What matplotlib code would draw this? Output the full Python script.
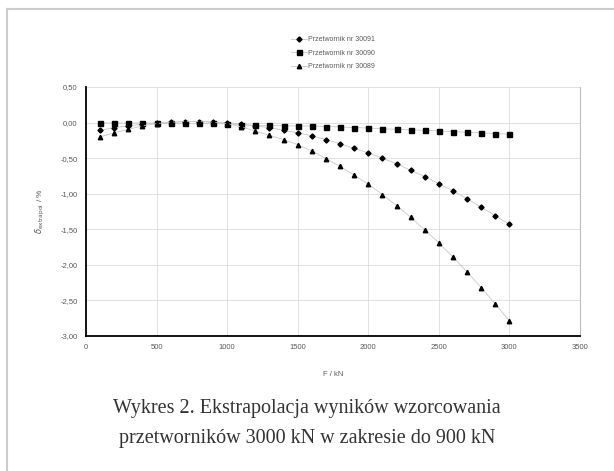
import matplotlib.pyplot as plt
from matplotlib.lines import Line2D

# F / kN
force = [100, 200, 300, 400, 500, 600, 700, 800, 900, 1000,
         1100, 1200, 1300, 1400, 1500, 1600, 1700, 1800, 1900, 2000,
         2100, 2200, 2300, 2400, 2500, 2600, 2700, 2800, 2900, 3000]

# delta_extrapol / %
p30091 = [-0.11, -0.07, -0.047, -0.023, -0.005, 0.005, 0.014, 0.014, 0.009, 0.0,
          -0.023, -0.05, -0.07, -0.11, -0.145, -0.185, -0.24, -0.297, -0.362, -0.427,
          -0.50, -0.58, -0.67, -0.76, -0.86, -0.96, -1.07, -1.19, -1.31, -1.43]
p30090 = [-0.005, -0.005, -0.008, -0.005, -0.008, -0.012, -0.012, -0.012, -0.012, -0.02,
          -0.028, -0.04, -0.04, -0.045, -0.047, -0.048, -0.056, -0.061, -0.072, -0.075,
          -0.089, -0.094, -0.103, -0.108, -0.117, -0.127, -0.136, -0.145, -0.155, -0.164]
p30089 = [-0.20, -0.145, -0.094, -0.047, -0.014, 0.005, 0.014, 0.014, 0.005, -0.014,
          -0.06, -0.12, -0.18, -0.24, -0.31, -0.40, -0.506, -0.615, -0.74, -0.867,
          -1.013, -1.167, -1.33, -1.51, -1.69, -1.89, -2.10, -2.32, -2.55, -2.79]

labels = ['Przetwornik nr 30091', 'Przetwornik nr 30090', 'Przetwornik nr 30089']
x_ticks = [0, 500, 1000, 1500, 2000, 2500, 3000, 3500]
y_ticks = [0.5, 0.0, -0.5, -1.0, -1.5, -2.0, -2.5, -3.0]

plt.rcParams['font.family'] = ['Liberation Sans', 'DejaVu Sans']

fig = plt.figure(figsize=(6.14, 4.71), dpi=100)
ax = fig.add_axes([86 / 614, 1 - 336 / 471, (580 - 86) / 614, (336 - 87) / 471])

line_kw = dict(color='#c8c8c8', lw=0.6, mfc='black', mec='black')
ax.plot(force, p30091, marker='D', ms=2.6, label=labels[0], **line_kw)
ax.plot(force, p30090, marker='s', ms=3.6, label=labels[1], **line_kw)
ax.plot(force, p30089, marker='^', ms=3.2, label=labels[2], **line_kw)

ax.set_xlim(0, 3500)
ax.set_ylim(-3.0, 0.5)
ax.set_xticks(x_ticks)
ax.set_yticks(y_ticks)
ax.set_yticklabels([f'{v:.2f}'.replace('.', ',') for v in y_ticks])
ax.tick_params(length=0, labelsize=5.5, colors='#595959', pad=6)
ax.grid(True, color='#dcdcdc', lw=0.6)
ax.set_axisbelow(True)

for s in ['left', 'bottom']:
    ax.spines[s].set_color('black')
    ax.spines[s].set_linewidth(1.3)
ax.spines['right'].set_color('#bdbdbd')
ax.spines['right'].set_linewidth(0.8)
ax.spines['top'].set_visible(False)

ax.set_xlabel('F / kN', fontsize=5.5, color='#595959', labelpad=14)
fig.text(40 / 614, 1 - 211 / 471, r'$\delta_{\mathrm{extrapol}}$ / %', rotation=90,
         ha='center', va='center', fontsize=6, color='#595959')

fig.legend(loc='upper center', bbox_to_anchor=(333 / 614, 1 - 30 / 471),
           frameon=False, fontsize=5, labelcolor='#595959',
           handlelength=2.2, handletextpad=0.2, labelspacing=0.95)

# caption
cap_kw = dict(ha='center', va='center', fontsize=14.5, color='#333333',
              family=['Liberation Serif', 'DejaVu Serif'])
fig.text(307 / 614, 1 - 409 / 471, 'Wykres 2. Ekstrapolacja wyników wzorcowania', **cap_kw)
fig.text(307 / 614, 1 - 439 / 471, 'przetworników 3000 kN w zakresie do 900 kN', **cap_kw)

# light frame along the top and left edges
fig.add_artist(Line2D([7 / 614, 7 / 614], [0, 1 - 9 / 471], color='#cccccc', lw=1.5,
                      transform=fig.transFigure))
fig.add_artist(Line2D([7 / 614, 1], [1 - 9 / 471, 1 - 9 / 471], color='#cccccc', lw=1.5,
                      transform=fig.transFigure))

fig.savefig('out.png', dpi=100)
